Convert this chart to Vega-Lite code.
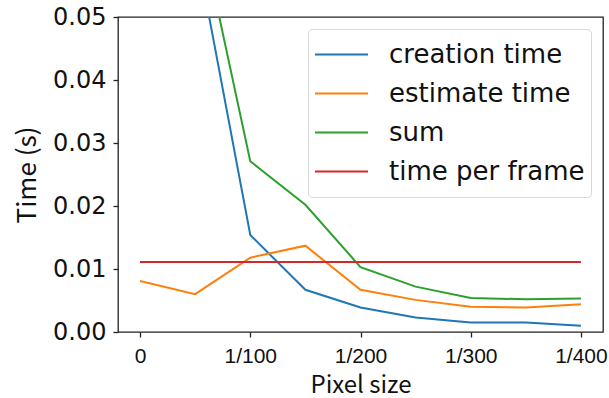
{
  "$schema": "https://vega.github.io/schema/vega-lite/v6.json",
  "width": 485,
  "height": 315,
  "autosize": "none",
  "padding": {"left": 118, "top": 17, "right": 6, "bottom": 66},
  "background": "white",
  "config": {
    "view": {"stroke": "#222", "strokeWidth": 1.3},
    "axis": {"grid": false, "domain": false, "tickColor": "#222", "tickSize": 5, "tickWidth": 1.3, "labelColor": "#111", "titleColor": "#111", "titleFontWeight": "normal"}
  },
  "data": {
    "values": [
      {"x": 0, "series": "creation time", "t": 0.085},
      {"x": 0.5, "series": "creation time", "t": 0.0618},
      {"x": 1, "series": "creation time", "t": 0.0154},
      {"x": 1.5, "series": "creation time", "t": 0.0067},
      {"x": 2, "series": "creation time", "t": 0.0039},
      {"x": 2.5, "series": "creation time", "t": 0.0023},
      {"x": 3, "series": "creation time", "t": 0.0015},
      {"x": 3.5, "series": "creation time", "t": 0.0015},
      {"x": 4, "series": "creation time", "t": 0.0010},
      {"x": 0, "series": "estimate time", "t": 0.0081},
      {"x": 0.5, "series": "estimate time", "t": 0.0060},
      {"x": 1, "series": "estimate time", "t": 0.0118},
      {"x": 1.5, "series": "estimate time", "t": 0.0137},
      {"x": 2, "series": "estimate time", "t": 0.0067},
      {"x": 2.5, "series": "estimate time", "t": 0.0051},
      {"x": 3, "series": "estimate time", "t": 0.0040},
      {"x": 3.5, "series": "estimate time", "t": 0.0039},
      {"x": 4, "series": "estimate time", "t": 0.0044},
      {"x": 0, "series": "sum", "t": 0.0931},
      {"x": 0.5, "series": "sum", "t": 0.0678},
      {"x": 1, "series": "sum", "t": 0.0271},
      {"x": 1.5, "series": "sum", "t": 0.0202},
      {"x": 2, "series": "sum", "t": 0.0103},
      {"x": 2.5, "series": "sum", "t": 0.0072},
      {"x": 3, "series": "sum", "t": 0.0054},
      {"x": 3.5, "series": "sum", "t": 0.0052},
      {"x": 4, "series": "sum", "t": 0.0053},
      {"x": 0, "series": "time per frame", "t": 0.0111},
      {"x": 0.5, "series": "time per frame", "t": 0.0111},
      {"x": 1, "series": "time per frame", "t": 0.0111},
      {"x": 1.5, "series": "time per frame", "t": 0.0111},
      {"x": 2, "series": "time per frame", "t": 0.0111},
      {"x": 2.5, "series": "time per frame", "t": 0.0111},
      {"x": 3, "series": "time per frame", "t": 0.0111},
      {"x": 3.5, "series": "time per frame", "t": 0.0111},
      {"x": 4, "series": "time per frame", "t": 0.0111}
    ]
  },
  "mark": {"type": "line", "clip": true, "strokeWidth": 2},
  "encoding": {
    "x": {
      "field": "x", "type": "quantitative",
      "scale": {"domain": [-0.2, 4.2], "nice": false, "zero": false},
      "axis": {
        "values": [0, 1, 2, 3, 4],
        "labelExpr": "datum.value == 0 ? '0' : '1/' + (datum.value * 100)",
        "labelFont": "Liberation Sans", "labelFontSize": 21, "labelPadding": 8,
        "title": "Pixel size", "titleFont": "Noto Sans CJK JP", "titleFontSize": 24, "titlePadding": 7
      }
    },
    "y": {
      "field": "t", "type": "quantitative",
      "scale": {"domain": [0, 0.05], "nice": false},
      "axis": {
        "values": [0, 0.01, 0.02, 0.03, 0.04, 0.05],
        "format": ".2f",
        "labelFont": "DejaVu Sans", "labelFontSize": 24, "labelPadding": 7,
        "title": "Time (s)", "titleFont": "Noto Sans CJK JP", "titleFontSize": 26, "titlePadding": 12
      }
    },
    "color": {
      "field": "series", "type": "nominal",
      "scale": {"domain": ["creation time", "estimate time", "sum", "time per frame"], "range": ["#1f77b4", "#ff7f0e", "#2ca02c", "#d62728"]},
      "legend": {
        "title": null, "orient": "top-right", "offset": 12, "padding": 6,
        "strokeColor": "#d8d8d8", "fillColor": "white", "cornerRadius": 4,
        "symbolType": "stroke", "symbolSize": 2809, "symbolStrokeWidth": 2,
        "clipHeight": 39, "rowPadding": 0, "labelOffset": 20, "labelLimit": 400,
        "labelFont": "DejaVu Sans", "labelFontSize": 26, "labelColor": "#111"
      }
    }
  }
}
